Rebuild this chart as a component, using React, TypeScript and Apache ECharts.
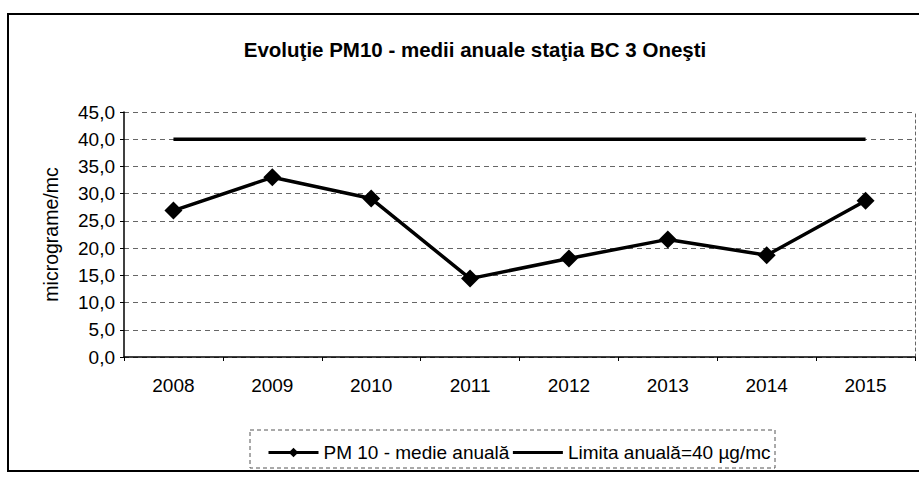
import React, { useEffect, useRef } from "react";
import * as echarts from "echarts";

const years = ["2008", "2009", "2010", "2011", "2012", "2013", "2014", "2015"];
const pm10 = [26.9, 33.0, 29.1, 14.4, 18.1, 21.6, 18.7, 28.7];
const limit = [40, 40, 40, 40, 40, 40, 40, 40];
const titleText = "Evoluţie PM10 - medii anuale staţia BC 3 Oneşti";
const yName = "micrograme/mc";
const pmName = "PM 10 - medie anuală";
const limitName = "Limita anuală=40 µg/mc";

const FONT = "'Liberation Sans', Arial, sans-serif";

export default function App() {
  const ref = useRef<HTMLDivElement>(null);
  useEffect(() => {
    if (!ref.current) return;
    const chart = echarts.init(ref.current, undefined, { renderer: "svg" });
    chart.setOption({
      animation: false,
      backgroundColor: "#fff",
      title: {
        text: titleText,
        left: 470,
        textAlign: "center",
        top: 34,
        textStyle: { fontFamily: FONT, fontSize: 20.5, fontWeight: "bold", color: "#000" },
      },
      grid: { left: 124, right: 4, top: 112, bottom: 120 },
      xAxis: {
        type: "category",
        data: years,
        boundaryGap: true,
        axisLine: { lineStyle: { color: "#000", width: 1.5 } },
        axisTick: { show: true, length: 4, lineStyle: { color: "#000" } },
        axisLabel: { fontFamily: FONT, fontSize: 19, color: "#000", margin: 19 },
      },
      yAxis: [
        {
          type: "value",
          min: 0,
          max: 45,
          interval: 5,
          name: yName,
          nameLocation: "middle",
          nameRotate: 90,
          nameGap: 63,
          nameTextStyle: { fontFamily: FONT, fontSize: 19.5, color: "#000" },
          axisLine: { show: true, lineStyle: { color: "#000", width: 1.5 } },
          axisTick: { show: true, length: 4, lineStyle: { color: "#000" } },
          axisLabel: {
            fontFamily: FONT,
            fontSize: 19,
            color: "#000",
            margin: 9,
            formatter: (v: number) => v.toFixed(1).replace(".", ","),
          },
          splitLine: { show: true, lineStyle: { color: "#666", type: [5, 4], width: 1 } },
        },
        {
          type: "value",
          min: 0,
          max: 45,
          interval: 5,
          position: "right",
          axisLine: { show: true, lineStyle: { color: "#666", type: [3, 3], width: 1 } },
          axisTick: { show: false },
          axisLabel: { show: false },
          splitLine: { show: false },
        },
      ],
      legend: {
        data: [pmName, { name: limitName, itemStyle: { opacity: 0 } }],
        left: 262,
        top: 438,
        itemWidth: 50,
        itemHeight: 12,
        itemGap: 2,
        lineStyle: { width: 3 },
        textStyle: { fontFamily: FONT, fontSize: 19, color: "#000" },
      },
      graphic: [
        {
          type: "rect",
          shape: { x: 8, y: 14, width: 930, height: 457 },
          style: { fill: "none", stroke: "#000", lineWidth: 2 },
        },
        {
          type: "rect",
          shape: { x: 250, y: 430, width: 525, height: 38 },
          style: { fill: "none", stroke: "#555", lineWidth: 1, lineDash: [4, 3] },
        },
      ],
      series: [
        {
          name: pmName,
          type: "line",
          data: pm10,
          symbol: "diamond",
          symbolSize: 18,
          lineStyle: { color: "#000", width: 3.5 },
          itemStyle: { color: "#000" },
        },
        {
          name: limitName,
          type: "line",
          data: limit,
          symbol: "none",
          lineStyle: { color: "#000", width: 3.5 },
          itemStyle: { color: "#000" },
        },
      ],
    });
    return () => chart.dispose();
  }, []);
  return <div ref={ref} style={{ width: 919, height: 477, position: "absolute", left: 0, top: 0 }} />;
}
